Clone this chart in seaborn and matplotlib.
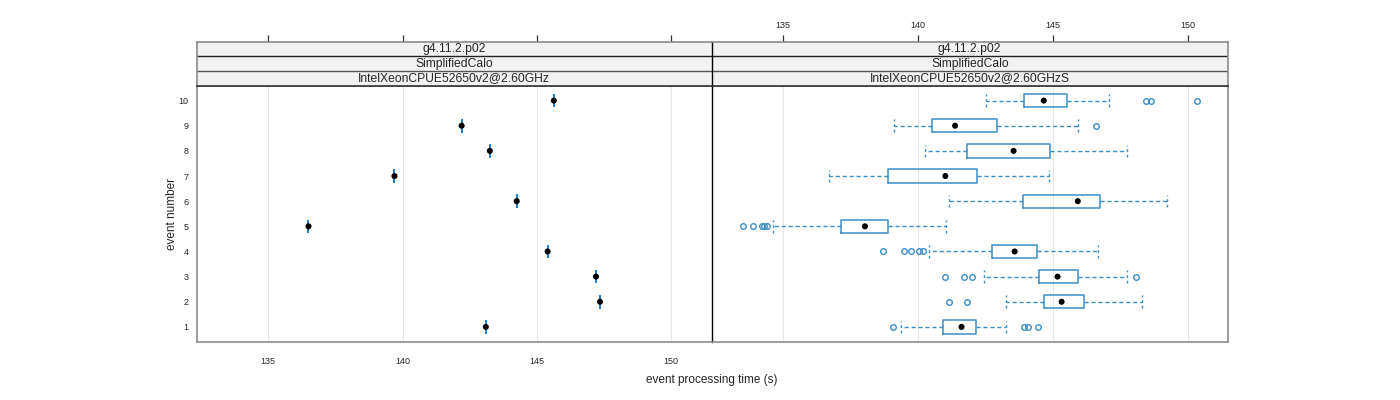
import matplotlib
matplotlib.use("Agg")
import matplotlib.pyplot as plt
import numpy as np
import pandas as pd
import seaborn as sns

# ---------------- data ----------------
events = [1, 2, 3, 4, 5, 6, 7, 8, 9, 10]
left_time = [143.1, 147.35, 147.2, 145.4, 136.5, 144.25, 139.7, 143.25, 142.2, 145.63]

whislo = [139.36, 143.26, 142.45, 140.41, 134.62, 141.17, 136.69, 140.27, 139.13, 142.54]
q1 = [140.95, 144.69, 144.50, 142.74, 137.15, 143.91, 138.91, 141.82, 140.52, 143.95]
med = [141.62, 145.33, 145.18, 143.59, 138.04, 145.93, 141.02, 143.55, 141.38, 144.67]
q3 = [142.15, 146.17, 145.93, 144.41, 138.88, 146.77, 142.21, 144.91, 142.95, 145.53]
whishi = [143.26, 148.31, 147.74, 146.67, 141.03, 149.22, 144.87, 147.74, 145.95, 147.08]
fliers = [
    [139.09, 143.95, 144.10, 144.47],
    [141.14, 141.84],
    [141.02, 141.70, 142.02, 148.09],
    [138.70, 139.47, 139.74, 140.06, 140.18],
    [133.51, 133.88, 134.23, 134.30, 134.42],
    [],
    [],
    [],
    [146.61],
    [148.47, 148.65, 150.36],
]

strip_labels_left = ["g4.11.2.p02", "SimplifiedCalo", "IntelXeonCPUE52650v2@2.60GHz"]
strip_labels_right = ["g4.11.2.p02", "SimplifiedCalo", "IntelXeonCPUE52650v2@2.60GHzS"]
xticks = [135, 140, 145, 150]
xlabel = "event processing time (s)"
ylabel = "event number"

# ---------------- style ----------------
sns.set_style("white")
plt.rcParams["font.family"] = ["Liberation Sans", "DejaVu Sans"]

BLUE = "#3b8ec6"
ERR = "#0a72c0"
BORDER = "#8c8c8c"
GRID = "#e6e6e6"
XLIM = (132.35, 151.5)
YLIM = (0.4, 10.6)

W, H = 1400, 400
fig = plt.figure(figsize=(14, 4), dpi=100)

def frac(x0, y0, x1, y1):
    return [x0 / W, 1 - y1 / H, (x1 - x0) / W, (y1 - y0) / H]

px_left, px_mid, px_right = 197, 711.5, 1228
py_strip_top, py_panel_top, py_bottom = 41.5, 85.5, 342

ax_l = fig.add_axes(frac(px_left, py_panel_top, px_mid, py_bottom))
ax_r = fig.add_axes(frac(px_mid, py_panel_top, px_right, py_bottom))
st_l = fig.add_axes(frac(px_left, py_strip_top, px_mid, py_panel_top))
st_r = fig.add_axes(frac(px_mid, py_strip_top, px_right, py_panel_top))

df_left = pd.DataFrame({"time": left_time, "event": events})
df_med = pd.DataFrame({"time": med, "event": events})

# left panel: points with short vertical bars
for x in xticks:
    ax_l.axvline(x, color=GRID, lw=0.8, zorder=0)
    ax_r.axvline(x, color=GRID, lw=0.8, zorder=0)
ax_l.errorbar(df_left["time"], df_left["event"], yerr=0.27, fmt="none",
              ecolor=ERR, elinewidth=1.3, zorder=2)
sns.scatterplot(data=df_left, x="time", y="event", ax=ax_l, color="black",
                s=19, edgecolor="none", zorder=3)

# right panel: box plots
stats = []
for i in range(len(events)):
    stats.append(dict(whislo=whislo[i], q1=q1[i], med=med[i], q3=q3[i],
                      whishi=whishi[i], fliers=fliers[i]))
ax_r.bxp(stats, positions=events, widths=0.53, orientation="horizontal",
         showfliers=True, capwidths=0.5, manage_ticks=False,
         boxprops=dict(color=BLUE, lw=1.1),
         whiskerprops=dict(color=BLUE, lw=1.0, linestyle=(0, (3, 2))),
         capprops=dict(color=BLUE, lw=1.0, linestyle=(0, (2, 2))),
         medianprops=dict(lw=0),
         flierprops=dict(marker="o", markerfacecolor="none",
                         markeredgecolor=BLUE, markersize=4, markeredgewidth=1.0))
sns.scatterplot(data=df_med, x="time", y="event", ax=ax_r, color="black",
                s=19, edgecolor="none", zorder=4)

for ax in (ax_l, ax_r):
    ax.set_xlim(*XLIM)
    ax.set_ylim(*YLIM)
    ax.set_xlabel("")
    ax.set_ylabel("")
    ax.set_xticks(xticks)
    for s in ax.spines.values():
        s.set_color(BORDER)
        s.set_linewidth(1.2)
    ax.tick_params(axis="x", direction="out", length=5, width=0.9,
                   color="#333333", labelsize=6.5, pad=6)

ax_l.set_yticks(events)
ax_l.set_yticklabels([str(e) for e in events])
ax_l.tick_params(axis="y", length=0, labelsize=6.5, pad=6)
ax_r.set_yticks([])
ax_r.set_xticklabels([])
ax_r.spines["left"].set_color("black")
ax_r.spines["left"].set_linewidth(1.0)
ax_l.spines["right"].set_visible(False)

# strips
for st, labels, show in ((st_l, strip_labels_left, False), (st_r, strip_labels_right, True)):
    st.set_facecolor("#f2f2f2")
    st.set_xlim(*XLIM)
    st.set_ylim(0, 3)
    st.set_yticks([])
    st.set_xticks(xticks)
    st.xaxis.tick_top()
    st.tick_params(axis="x", direction="out", length=5, width=0.9,
                   color="#333333", labelsize=6.5, pad=3, labeltop=show,
                   labelbottom=False, bottom=False)
    for s in st.spines.values():
        s.set_color(BORDER)
        s.set_linewidth(1.2)
    st.spines["bottom"].set_color("#333333")
    st.axhline(1, color="#555555", lw=1.0)
    st.axhline(2, color="#222222", lw=1.0)
    for k, lab in enumerate(labels):
        st.text(0.5, (2.5 - k) / 3, lab, transform=st.transAxes,
                ha="center", va="center", fontsize=8.7)
st_r.spines["left"].set_color("black")
st_r.spines["left"].set_linewidth(1.0)
st_l.spines["right"].set_visible(False)

fig.text(px_mid / W, 1 - 380 / H, xlabel, ha="center", va="center", fontsize=8.5)
fig.text(172 / W, 1 - 214 / H, ylabel, ha="center", va="center",
         rotation=90, fontsize=8.5)

fig.savefig("out.png", dpi=100)
